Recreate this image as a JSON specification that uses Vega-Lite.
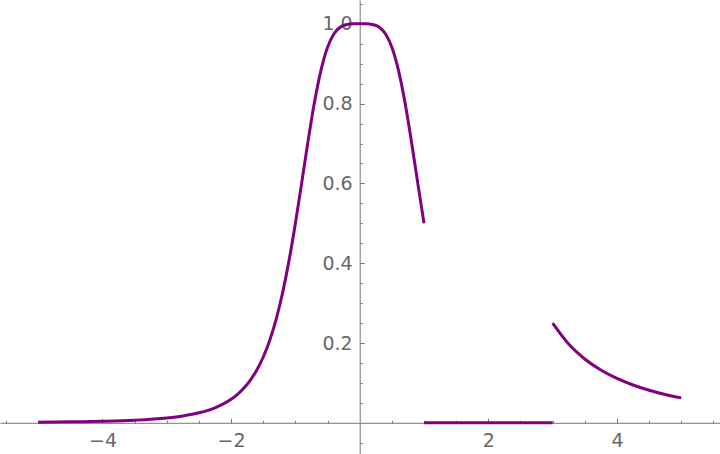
{
  "$schema": "https://vega.github.io/schema/vega-lite/v6.json",
  "width": 720,
  "height": 454,
  "autosize": {"type": "none"},
  "padding": 0,
  "background": "white",
  "config": {"view": {"stroke": null}},
  "data": {"values": [
    {"seg": "a", "x": -5, "y": 0.0016},
    {"seg": "a", "x": -4.5, "y": 0.00243},
    {"seg": "a", "x": -4, "y": 0.00389},
    {"seg": "a", "x": -3.5, "y": 0.00662},
    {"seg": "a", "x": -3, "y": 0.0122},
    {"seg": "a", "x": -2.75, "y": 0.0172},
    {"seg": "a", "x": -2.5, "y": 0.025},
    {"seg": "a", "x": -2.25, "y": 0.0376},
    {"seg": "a", "x": -2, "y": 0.0588},
    {"seg": "a", "x": -1.9, "y": 0.0713},
    {"seg": "a", "x": -1.8, "y": 0.087},
    {"seg": "a", "x": -1.7, "y": 0.1069},
    {"seg": "a", "x": -1.6, "y": 0.1324},
    {"seg": "a", "x": -1.5, "y": 0.1649},
    {"seg": "a", "x": -1.4, "y": 0.2065},
    {"seg": "a", "x": -1.3, "y": 0.2593},
    {"seg": "a", "x": -1.2, "y": 0.3254},
    {"seg": "a", "x": -1.1, "y": 0.4058},
    {"seg": "a", "x": -1.0, "y": 0.5},
    {"seg": "a", "x": -0.9, "y": 0.6038},
    {"seg": "a", "x": -0.8, "y": 0.7094},
    {"seg": "a", "x": -0.7, "y": 0.8064},
    {"seg": "a", "x": -0.6, "y": 0.8853},
    {"seg": "a", "x": -0.5, "y": 0.9412},
    {"seg": "a", "x": -0.4, "y": 0.975},
    {"seg": "a", "x": -0.3, "y": 0.992},
    {"seg": "a", "x": -0.2, "y": 0.9984},
    {"seg": "a", "x": -0.1, "y": 0.9999},
    {"seg": "a", "x": 0, "y": 1},
    {"seg": "a", "x": 0.1, "y": 0.9999},
    {"seg": "a", "x": 0.2, "y": 0.9984},
    {"seg": "a", "x": 0.3, "y": 0.992},
    {"seg": "a", "x": 0.4, "y": 0.975},
    {"seg": "a", "x": 0.5, "y": 0.9412},
    {"seg": "a", "x": 0.6, "y": 0.8853},
    {"seg": "a", "x": 0.7, "y": 0.8064},
    {"seg": "a", "x": 0.8, "y": 0.7094},
    {"seg": "a", "x": 0.9, "y": 0.6038},
    {"seg": "a", "x": 1.0, "y": 0.5},
    {"seg": "b", "x": 1.0, "y": 0},
    {"seg": "b", "x": 3.0, "y": 0},
    {"seg": "c", "x": 3.0, "y": 0.25},
    {"seg": "c", "x": 3.25, "y": 0.1975},
    {"seg": "c", "x": 3.5, "y": 0.16},
    {"seg": "c", "x": 3.75, "y": 0.1322},
    {"seg": "c", "x": 4.0, "y": 0.1111},
    {"seg": "c", "x": 4.25, "y": 0.0947},
    {"seg": "c", "x": 4.5, "y": 0.0816},
    {"seg": "c", "x": 4.75, "y": 0.0711},
    {"seg": "c", "x": 5.0, "y": 0.0625}
  ]},
  "layer": [
    {
      "mark": {"type": "line", "opacity": 0},
      "encoding": {
        "x": {"field": "x", "type": "quantitative",
          "scale": {"domain": [-5.594, 5.603], "nice": false, "zero": false},
          "axis": {"orient": "bottom", "offset": -31.2, "title": null, "grid": false, "domain": false, "labels": false,
            "values": [-5.5, -5, -4.5, -3.5, -3, -2.5, -1.5, -1, -0.5, 0.5, 1, 1.5, 2.5, 3, 3.5, 4.5, 5, 5.5],
            "tickSize": -2.5, "tickColor": "#777777", "tickWidth": 1}},
        "y": {"field": "y", "type": "quantitative",
          "scale": {"domain": [-0.0782, 1.0597], "nice": false, "zero": false},
          "axis": {"orient": "left", "offset": -359.7, "title": null, "grid": false, "domain": false, "labels": false,
            "values": [-0.05, 0.05, 0.1, 0.15, 0.25, 0.3, 0.35, 0.45, 0.5, 0.55, 0.65, 0.7, 0.75, 0.85, 0.9, 0.95, 1.05],
            "tickSize": -2.5, "tickColor": "#777777", "tickWidth": 1}},
        "detail": {"field": "seg"}
      }
    },
    {
      "mark": {"type": "line", "color": "#800080", "strokeWidth": 3, "interpolate": "monotone"},
      "encoding": {
        "x": {"field": "x", "type": "quantitative",
          "scale": {"domain": [-5.594, 5.603], "nice": false, "zero": false},
          "axis": {"orient": "bottom", "offset": -31.2, "title": null, "grid": false,
            "values": [-4, -2, 2, 4], "format": "d",
            "domainColor": "#777777", "domainWidth": 1,
            "tickSize": -4.5, "tickColor": "#777777", "tickWidth": 1,
            "labelPadding": 13, "labelFont": "DejaVu Sans", "labelFontSize": 19, "labelColor": "#666666"}},
        "y": {"field": "y", "type": "quantitative",
          "scale": {"domain": [-0.0782, 1.0597], "nice": false, "zero": false},
          "axis": {"orient": "left", "offset": -359.7, "title": null, "grid": false,
            "values": [0.2, 0.4, 0.6, 0.8, 1.0], "format": ".1f",
            "domainColor": "#777777", "domainWidth": 1,
            "tickSize": -4.5, "tickColor": "#777777", "tickWidth": 1,
            "labelPadding": 12, "labelFont": "DejaVu Sans", "labelFontSize": 19, "labelColor": "#666666"}},
        "detail": {"field": "seg"}
      }
    }
  ],
  "resolve": {"axis": {"x": "independent", "y": "independent"}}
}
